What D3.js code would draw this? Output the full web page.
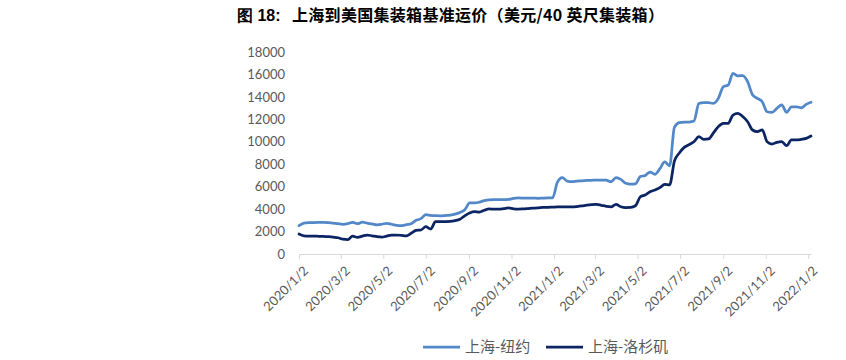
<!DOCTYPE html>
<html><head><meta charset="utf-8">
<script src="https://cdn.jsdelivr.net/npm/d3@7"></script>
<style>
body{margin:0;background:#fff;}
svg{display:block;}
</style></head>
<body>
<svg id="c" width="846" height="360"></svg>
<script>
const titleLead = "图 18:";
const titleMain = "上海到美国集装箱基准运价（美元/40 英尺集装箱）";
const seriesNames = ["上海-纽约", "上海-洛杉矶"];
const firstDate = "2020-01-02";
const tickLabels = ["2020/1/2","2020/3/2","2020/5/2","2020/7/2","2020/9/2","2020/11/2","2021/1/2","2021/3/2","2021/5/2","2021/7/2","2021/9/2","2021/11/2","2022/1/2"];
const yTicks = [0,2000,4000,6000,8000,10000,12000,14000,16000,18000];
const shanghaiNY = [2520,2750,2790,2800,2810,2820,2800,2760,2700,2650,2700,2820,2700,2830,2750,2680,2600,2650,2740,2650,2560,2520,2620,2700,3000,3150,3500,3450,3420,3400,3430,3470,3550,3700,3950,4550,4550,4620,4750,4830,4850,4850,4850,4870,4960,5000,4980,4970,4980,4960,4980,5000,5000,6400,6800,6500,6450,6500,6520,6550,6570,6590,6590,6580,6440,6800,6650,6300,6220,6250,6900,7000,7300,7100,7600,8200,7850,11300,11700,11750,11760,11850,13400,13500,13480,13430,13870,14900,15050,16100,15880,15890,15350,14200,13870,13570,12680,12620,12980,13280,12620,13120,13120,13030,13330,13520];
const shanghaiLA = [1780,1620,1600,1600,1580,1560,1550,1500,1450,1320,1280,1600,1490,1600,1690,1620,1540,1500,1600,1690,1690,1660,1620,1850,2100,2140,2430,2230,2880,2880,2890,2910,2980,3100,3400,3650,3770,3740,3900,4010,4000,4000,4050,4100,4020,4000,4020,4050,4080,4100,4150,4160,4180,4200,4210,4200,4200,4230,4280,4350,4400,4420,4340,4250,4200,4420,4210,4140,4150,4300,5100,5260,5550,5700,5910,6210,6150,8300,9000,9500,9750,10000,10450,10220,10250,10800,11350,11640,11650,12380,12530,12250,11790,11050,10900,11050,10000,9800,9950,10010,9650,10160,10160,10220,10300,10510];

const parse = d3.timeParse("%Y-%m-%d");
const parseTick = d3.timeParse("%Y/%m/%d");
const start = parse(firstDate);
const dates = shanghaiNY.map((_, i) => d3.timeDay.offset(start, 7 * i));

const svg = d3.select("#c");
const fontCN = "'Noto Sans CJK SC','Noto Sans',sans-serif";
const fontNum = "Lato,'Liberation Sans',sans-serif";

svg.append("text").attr("x", 237).attr("y", 21)
  .attr("font-family", "'Liberation Sans',Arial,sans-serif").attr("font-weight", "bold").attr("font-size", 16)
  .attr("fill", "#000").text(titleLead);
svg.append("text").attr("x", 292).attr("y", 21)
  .attr("font-family", fontCN).attr("font-weight", "bold").attr("font-size", 16)
  .attr("letter-spacing", 0.3)
  .attr("fill", "#000").text(titleMain);

const x = d3.scaleTime().domain([start, dates[dates.length - 1]]).range([299, 811]);
const y = d3.scaleLinear().domain([0, 18000]).range([254, 52]);

// y axis labels
const yAxis = d3.axisLeft(y).tickValues(yTicks).tickSize(0).tickPadding(14).tickFormat(d3.format("d"));
const gy = svg.append("g").attr("transform", "translate(299,0)").call(yAxis);
gy.select(".domain").remove();
gy.selectAll("text").attr("font-family", fontNum).attr("font-size", 13).attr("fill", "#595959");

// x axis
const tickDates = tickLabels.map(parseTick);
const xAxis = d3.axisBottom(x).tickValues(tickDates).tickSize(5).tickSizeOuter(0).tickFormat((d, i) => tickLabels[i]);
const gx = svg.append("g").attr("transform", "translate(0,254)").call(xAxis);
gx.select(".domain").attr("stroke", "#d9d9d9").attr("stroke-width", 1);
gx.selectAll(".tick line").attr("stroke", "#d9d9d9");
gx.selectAll("text").attr("font-family", fontNum).attr("font-size", 13).attr("fill", "#595959")
  .attr("text-anchor", "end").attr("dx", 0).attr("dy", 0)
  .attr("transform", "translate(4,12) rotate(-45)");

const line = d3.line().x((d, i) => x(dates[i])).y(d => y(d)).curve(d3.curveMonotoneX);
const colors = ["#5287c8", "#0b2463"];
[shanghaiNY, shanghaiLA].forEach((s, k) => {
  svg.append("path").datum(s).attr("d", line).attr("fill", "none")
    .attr("stroke", colors[k]).attr("stroke-width", 2.75).attr("stroke-linejoin", "round").attr("stroke-linecap", "round");
});

// legend
const leg = [{x: 423, tx: 465}, {x: 546, tx: 588}];
seriesNames.forEach((n, k) => {
  svg.append("line").attr("x1", leg[k].x).attr("x2", leg[k].x + 37).attr("y1", 347).attr("y2", 347)
    .attr("stroke", colors[k]).attr("stroke-width", 2.75);
  svg.append("text").attr("x", leg[k].tx).attr("y", 352).attr("font-family", fontCN)
    .attr("font-size", 15).attr("fill", "#595959").text(n);
});
</script>
</body></html>
